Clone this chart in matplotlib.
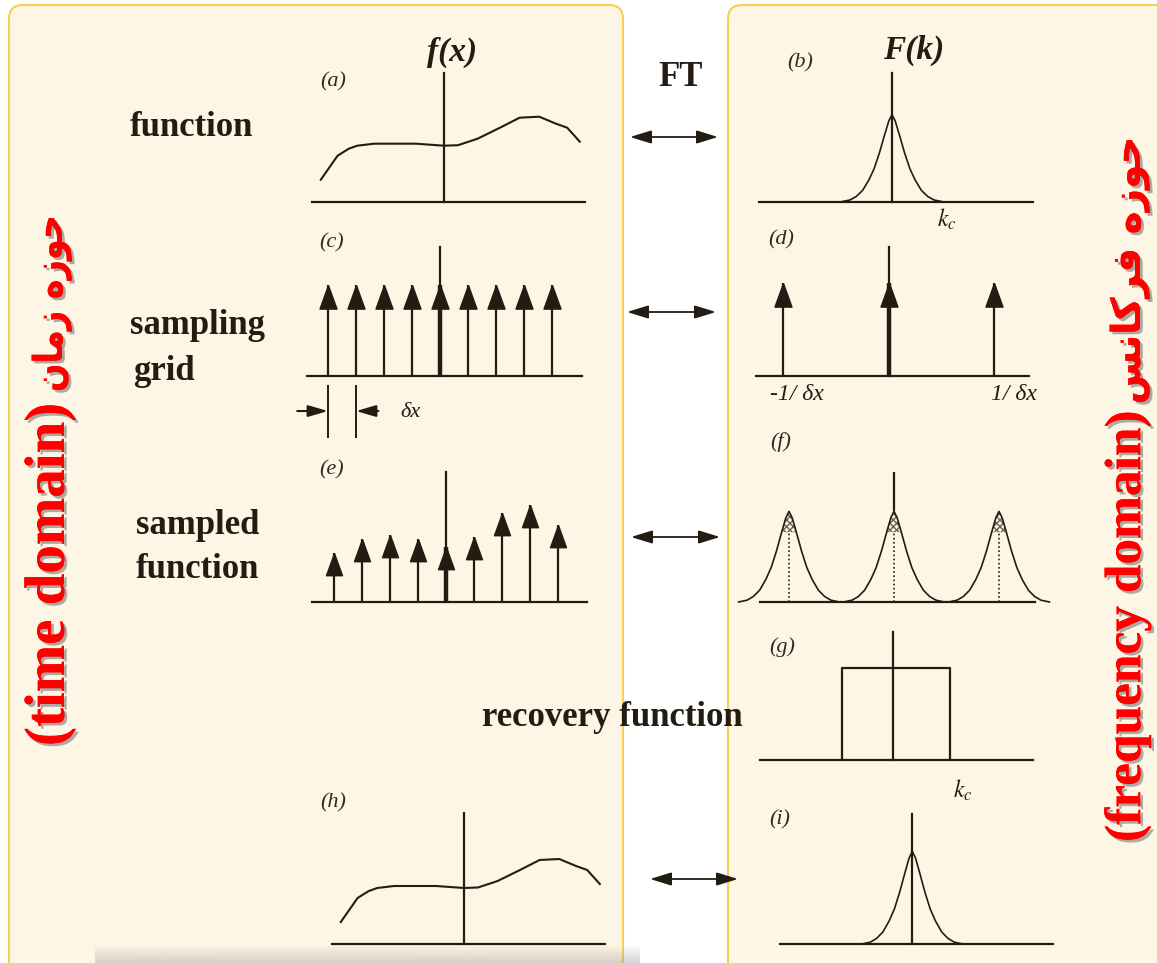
import numpy as np
import matplotlib
matplotlib.use("Agg")
import matplotlib.pyplot as plt
from matplotlib.patches import FancyBboxPatch, PathPatch
from matplotlib.textpath import TextPath
from matplotlib.font_manager import FontProperties
from matplotlib.transforms import Affine2D
import matplotlib.patheffects as pe

plt.rcParams["mathtext.fontset"] = "stix"

W, H = 1157, 963

# f(x): x in units of the sample spacing dx, y in amplitude units
fx_x = [-4.4, -4.1, -3.8, -3.4, -3.1, -2.5, -1.0, 0.0, 0.5, 1.2, 2.0, 2.7, 3.4, 4.0, 4.4, 4.85]
fx_y = [0.22, 0.34, 0.46, 0.53, 0.56, 0.58, 0.58, 0.56, 0.565, 0.63, 0.74, 0.84, 0.85, 0.78, 0.74, 0.60]

# sampling grid and the sampled values
grid_n = [-4, -3, -2, -1, 0, 1, 2, 3, 4]
comb_h = [1, 1, 1, 1, 1, 1, 1, 1, 1]
sampled_h = [0.49, 0.63, 0.67, 0.63, 0.55, 0.65, 0.89, 0.97, 0.77]

# F(k): peak shape, k in units of 1/dx
peak_k = [-0.48, -0.40, -0.34, -0.28, -0.22, -0.17, -0.12, -0.07, -0.03, 0.0,
          0.03, 0.07, 0.12, 0.17, 0.22, 0.28, 0.34, 0.40, 0.48]
peak_v = [0.0, 0.02, 0.06, 0.13, 0.25, 0.38, 0.56, 0.77, 0.93, 1.0,
          0.93, 0.77, 0.56, 0.38, 0.25, 0.13, 0.06, 0.02, 0.0]
replica_k = [-1, 0, 1]
delta_h = [1, 1, 1]

# ideal low-pass window
rect_k = [-0.48, 0.55]
rect_h = 1.0

ink = "#231c12"
cream = "#fdf6e4"
gold = "#f7cf58"
red = "#ff0000"
serif = "Liberation Serif"

fig = plt.figure(figsize=(W / 100, H / 100), dpi=100)
fig.patch.set_facecolor("white")

bg = fig.add_axes([0, 0, 1, 1])
bg.axis("off")

# two panels: time domain and frequency domain
for x0, x1 in [(9, 623), (728, 1190)]:
    bg.add_patch(FancyBboxPatch((x0, 5), x1 - x0, 1000,
                                boxstyle="round,pad=0,rounding_size=14",
                                fc=cream, ec=gold, lw=1.5))

# grey haze along the bottom edge
haze = np.zeros((16, 2, 4))
haze[..., :3] = 0.6
haze[..., 3] = np.linspace(0.0, 0.4, 16)[:, None]
bg.imshow(haze, extent=(95, 640, 963, 944), aspect="auto", interpolation="bilinear", zorder=1)
bg.set_xlim(0, W)
bg.set_ylim(H, 0)


def panel(ox, oy, sx, sy, x0, x1, top, vaxis=True):
    ax = fig.add_axes([x0 / W, 1 - oy / H, (x1 - x0) / W, (oy - top) / H])
    ax.set_xlim((x0 - ox) / sx, (x1 - ox) / sx)
    ax.set_ylim(0, (oy - top) / sy)
    ax.axis("off")
    ax.axhline(0, color=ink, lw=1.6, clip_on=False)
    if vaxis:
        ax.axvline(0, color=ink, lw=1.6, clip_on=False)
    return ax


head = [(0, 0), (-0.36, -1), (0.36, -1), (0, 0)]


def spikes(ax, xs, hs, ms=34):
    lws = [3.2 if x == 0 else 1.6 for x in xs]
    ax.vlines(xs, 0, hs, colors=ink, linewidths=lws, clip_on=False)
    ax.plot(xs, hs, ls="none", marker=head, ms=ms, color=ink, mec=ink, mew=1, clip_on=False)


# (a) f(x)
ax_a = panel(444, 201.7, 28, 100, 312, 585, 73)
ax_a.plot(fx_x, fx_y, color=ink, lw=1.5)

# (c) sampling comb
ax_c = panel(440, 376, 28, 91, 307, 582, 247)
spikes(ax_c, grid_n, comb_h)
ax_c.vlines(grid_n[:2], -0.68, -0.1, colors=ink, lw=1.4, clip_on=False)
arr = dict(arrowstyle="-|>,head_length=1.2,head_width=0.35", lw=1.5, color=ink,
           shrinkA=0, shrinkB=0)
ax_c.annotate("", xy=(grid_n[0], -0.385), xytext=(grid_n[0] - 1.1, -0.385),
              arrowprops=arr, annotation_clip=False)
ax_c.annotate("", xy=(grid_n[1], -0.385), xytext=(grid_n[1] + 0.8, -0.385),
              arrowprops=arr, annotation_clip=False)
ax_c.text(-1.05, -0.4, "δx", fontsize=16, style="italic", family=serif,
          color=ink, ha="center", va="center")

# (e) sampled function
ax_e = panel(446, 602, 28, 100, 312, 587, 472)
spikes(ax_e, grid_n, sampled_h, ms=32)

# (h) recovered function
ax_h = panel(464, 944, 28, 100, 332, 605, 813)
ax_h.plot(fx_x, fx_y, color=ink, lw=1.5)

# (b) F(k)
ax_b = panel(892, 201.7, 105, 87, 759, 1033, 73)
ax_b.plot(peak_k, peak_v, color=ink, lw=1.2)
ax_b.text(0.52, -0.2, "$k_c$", fontsize=17, color=ink, ha="center", va="center")

# (d) transform of the comb
ax_d = panel(888.5, 376, 105, 92.7, 756, 1029, 247)
spikes(ax_d, replica_k, delta_h)
ax_d.text(-1.13, -0.2, "-1/ δx", fontsize=17, family=serif, style="italic",
          color=ink, ha="left", va="center")
ax_d.text(0.98, -0.2, "1/ δx", fontsize=17, family=serif, style="italic",
          color=ink, ha="left", va="center")

# (f) replicated spectrum
ax_f = panel(894, 602, 105, 90.6, 760, 1035, 472, vaxis=False)
ks = np.concatenate([np.array(peak_k) + c for c in replica_k])
vs = np.tile(peak_v, len(replica_k))
ax_f.plot(ks, vs, color=ink, lw=1.2, clip_on=False)
ax_f.vlines(replica_k, 0, 0.78, colors=ink, lw=1.2, linestyles=(0, (1, 1.5)))
ax_f.vlines(0, 1.0, ax_f.get_ylim()[1], colors=ink, lw=1.6)
pk = np.array(peak_k)
pv = np.array(peak_v)
for c in replica_k:
    ax_f.fill_between(pk + c, 0.77, pv, where=pv >= 0.77, facecolor="none",
                      edgecolor="#6b6152", hatch="xxxxx", lw=0)

# (g) recovery window
ax_g = panel(892.7, 760, 105, 92, 760, 1033, 632)
ax_g.plot([rect_k[0], rect_k[0], rect_k[1], rect_k[1]], [0, rect_h, rect_h, 0],
          color=ink, lw=1.6)
ax_g.text(0.67, -0.33, "$k_c$", fontsize=17, color=ink, ha="center", va="center")

# (i) spectrum of the recovered function
ax_i = panel(912.3, 944, 105, 92.6, 780, 1053, 814)
ax_i.plot(peak_k, peak_v, color=ink, lw=1.2)

# panel letters
letters = [("(a)", 333, 82), ("(b)", 800, 63), ("(c)", 332, 243), ("(d)", 781, 240),
           ("(e)", 332, 470), ("(f)", 781, 442), ("(g)", 782, 647), ("(h)", 333, 803),
           ("(i)", 780, 820)]
for s, x, y in letters:
    bg.text(x, y, s, fontsize=16, family=serif, style="italic", color="#2e2a22",
            ha="center", va="center")

bg.text(452, 52, "f(x)", fontsize=24, family=serif, weight="bold", style="italic",
        color=ink, ha="center", va="center")
bg.text(914, 50, "F(k)", fontsize=24, family=serif, weight="bold", style="italic",
        color=ink, ha="center", va="center")
bg.text(681, 78, "FT", fontsize=25, family=serif, weight="bold", color=ink,
        ha="center", va="center")

# row captions
rows = [("function", 130, 128), ("sampling", 130, 326), ("grid", 133, 372),
        ("sampled", 136, 525), ("function", 136, 569)]
for s, x, y in rows:
    bg.text(x, y, s, fontsize=25, family=serif, weight="bold", color=ink,
            ha="left", va="center")
bg.text(612, 718, "recovery function", fontsize=25, family=serif, weight="bold",
        color=ink, ha="center", va="center")

# FT pairs
ft_rows = [(630, 718, 137), (627, 716, 312), (631, 720, 537), (650, 738, 879)]
for xa, xb, y in ft_rows:
    bg.annotate("", xy=(xb, y), xytext=(xa, y),
                arrowprops=dict(arrowstyle="<|-|>,head_length=1.3,head_width=0.4",
                                lw=1.3, color=ink, shrinkA=0, shrinkB=0))

# side titles
shadow = [pe.withSimplePatchShadow(offset=(2, -2), shadow_rgbFace="#777777", alpha=0.6),
          pe.Normal()]
side = dict(rotation=90, rotation_mode="anchor", weight="bold", color=red,
            ha="left", va="center", path_effects=shadow)
bg.text(50, 746, "(time domain)", fontsize=41, family=serif, **side)
bg.text(1128, 842, "(frequency domain)", fontsize=37, family=serif, **side)


def vertical_path(s, x_base, y_start, length, height):
    # Persian words (visual order, presentation forms) squeezed along the text
    tp = TextPath((0, 0), s, size=100, prop=FontProperties(family="DejaVu Sans", weight="bold"))
    ext = tp.get_extents()
    a = length / ext.width
    b = height / 100
    m = np.array([[0, -b, x_base], [-a, 0, y_start + a * ext.x0], [0, 0, 1]])
    bg.add_patch(PathPatch(tp, transform=Affine2D(m) + bg.transData, fc=red, ec="none",
                           path_effects=shadow))


vertical_path("\ufee5\ufe8e\ufee3\ufeaf \ufee9\ufeaf\ufeee\ufea3", 62, 390, 172, 40)
vertical_path("\ufeb2\ufee7\ufe8e\ufb90\ufeae\ufed3 \ufee9\ufeaf\ufeee\ufea3", 1140, 402, 262, 40)

fig.savefig("out.png", dpi=100)
